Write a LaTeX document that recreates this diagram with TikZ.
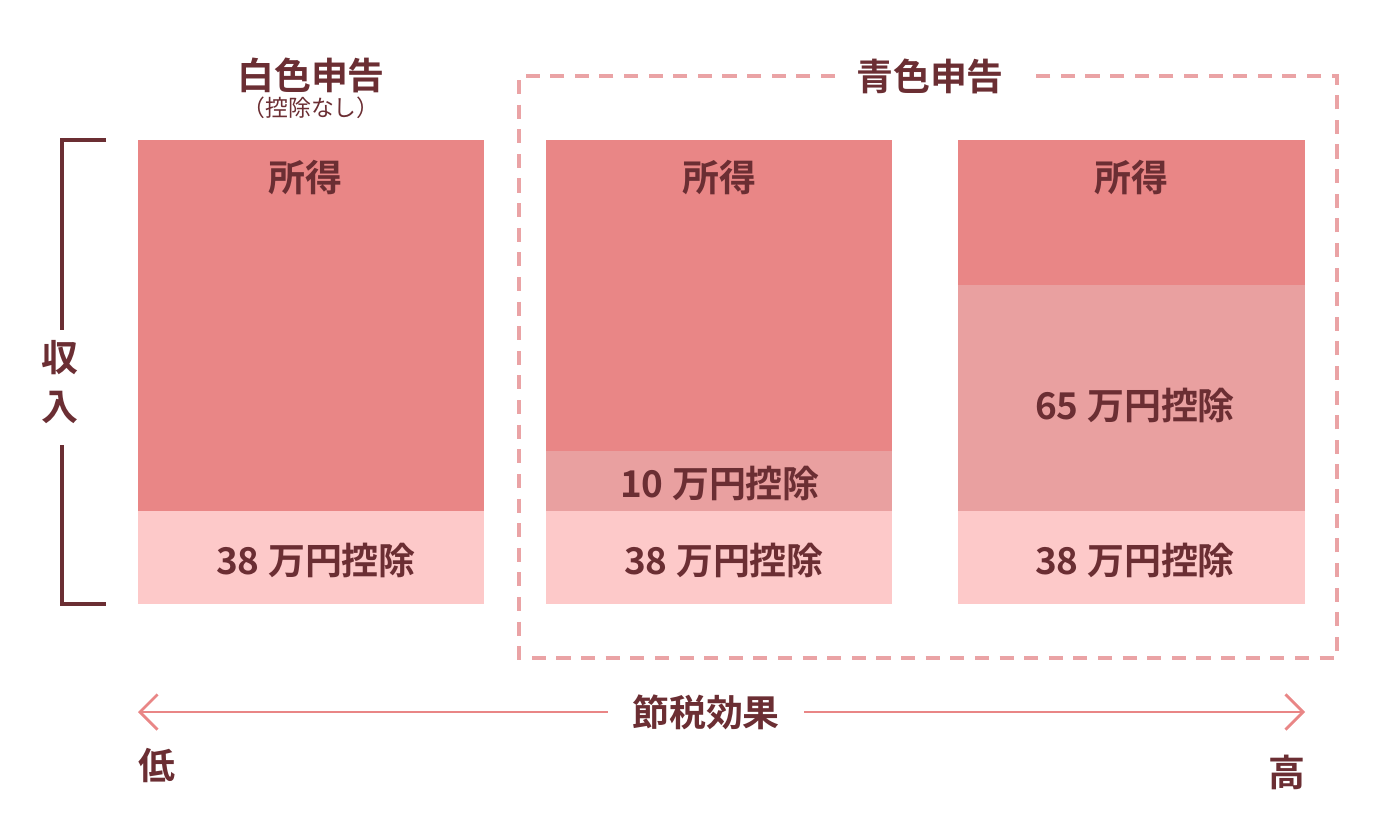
\documentclass[tikz,border=0pt]{standalone}
\usepackage{fontspec}
\setmainfont{Noto Sans CJK JP}[BoldFont={Noto Sans CJK JP Bold}]
\usetikzlibrary{arrows.meta}
\definecolor{salmon}{HTML}{E98686}
\definecolor{midpink}{HTML}{E9A0A0}
\definecolor{lightpink}{HTML}{FDC9C9}
\definecolor{textbrown}{HTML}{6B2E33}
\definecolor{dashpink}{HTML}{EAA3A5}
\tikzset{>={Straight Barb[length=5pt,width=10pt]}}
\begin{document}
\begin{tikzpicture}[x=0.01cm,y=-0.01cm]
  \tikzstyle{lbl}=[text=textbrown,font=\bfseries\fontsize{10.5}{12}\selectfont];
  \useasboundingbox (0,0) rectangle (1380,824);
  % columns
  \fill[salmon] (138,140) rectangle (484,511);
  \fill[lightpink] (138,511) rectangle (484,604);
  \fill[salmon] (546,140) rectangle (892,451);
  \fill[midpink] (546,451) rectangle (892,511);
  \fill[lightpink] (546,511) rectangle (892,604);
  \fill[salmon] (958,140) rectangle (1305,285);
  \fill[midpink] (958,285) rectangle (1305,511);
  \fill[lightpink] (958,511) rectangle (1305,604);
  \node[lbl] (s1) at (305,178) {所得};
  \node[lbl] (s2) at (719,178) {所得};
  \node[lbl] (s3) at (1131,178) {所得};
  \node[lbl] (w1) at (316,560) {38 万円控除};
  \node[lbl] (b1) at (720,483) {10 万円控除};
  \node[lbl] (b2) at (724,560) {38 万円控除};
  \node[lbl] (c1) at (1135,405) {65 万円控除};
  \node[lbl] (c2) at (1135,560) {38 万円控除};
  % titles
  \node[lbl] (white) at (311,75) {白色申告};
  \node[text=textbrown,font=\fontsize{6.5}{7}\selectfont] (none) at (311,108) {（控除なし）};
  \draw[dashpink,line width=1.2pt,dash pattern=on 4pt off 3pt]
    (835,76) -- (519,76) -- (519,658) -- (1337,658) -- (1337,76) -- (1030,76);
  \node[lbl] (blue) at (930,76) {青色申告};
  % income bracket
  \node[lbl,align=center,inner sep=0pt] (income) at (60,382) {収\\[2pt]入};
  \draw[textbrown,line width=1.2pt] (106,140) -- (62,140) -- (62,330);
  \draw[textbrown,line width=1.2pt] (62,445) -- (62,604) -- (106,604);
  % effect arrow
  \node[lbl] (effect) at (706,712) {節税効果};
  \coordinate (lo) at (138,712);
  \coordinate (hi) at (1305,712);
  \draw[salmon,line width=0.8pt,->] (effect.west) ++(-12,0) -- (lo);
  \draw[salmon,line width=0.8pt,->] (effect.east) ++(12,0) -- (hi);
  \node[lbl] (low) at (157,765) {低};
  \node[lbl] (high) at (1287,772) {高};
\end{tikzpicture}
\end{document}
